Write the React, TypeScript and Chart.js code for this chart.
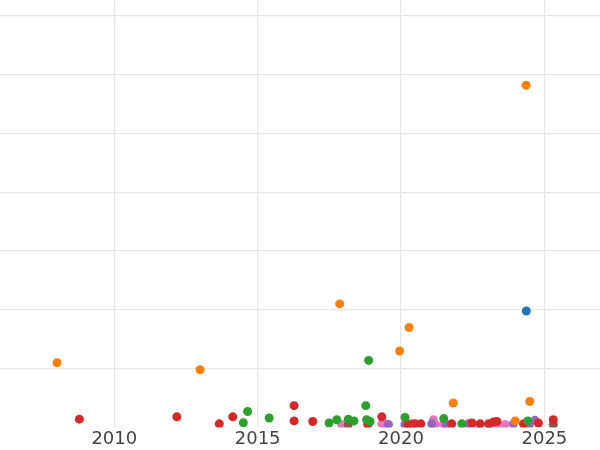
import React, { useEffect, useRef } from "react";
import { Chart, registerables } from "chart.js";

Chart.register(...registerables);

const xTicks = [2010, 2015, 2020, 2025];
const yTicks = [1, 2, 3, 4, 5, 6, 7];

const blueX = [2024.37];
const blueY = [1.98];

const orangeX = [2008.0, 2012.99, 2017.86, 2020.28, 2019.95, 2024.36, 2021.82, 2024.49, 2023.98];
const orangeY = [1.10, 0.98, 2.10, 1.70, 1.30, 5.82, 0.415, 0.44, 0.11];

const greenX = [2018.87, 2018.77, 2014.65, 2014.5, 2015.4, 2017.49, 2017.76, 2018.16, 2018.36, 2018.8, 2018.92, 2020.14, 2021.49, 2022.12, 2024.42];
const greenY = [1.14, 0.37, 0.27, 0.08, 0.16, 0.075, 0.13, 0.14, 0.11, 0.13, 0.10, 0.17, 0.15, 0.06, 0.11];

const redX = [2008.78, 2012.18, 2013.66, 2014.13, 2016.27, 2016.27, 2016.92, 2019.33, 2018.84, 2020.25, 2020.49, 2020.69, 2021.77, 2022.47, 2022.76, 2023.05, 2023.22, 2023.34, 2024.27, 2024.79, 2025.31];
const redY = [0.14, 0.18, 0.06, 0.18, 0.37, 0.11, 0.10, 0.18, 0.05, 0.05, 0.06, 0.06, 0.06, 0.075, 0.06, 0.06, 0.09, 0.10, 0.06, 0.075, 0.13];

const purpleX = [2019.56, 2020.14, 2020.37, 2021.07, 2021.59, 2022.35, 2023.1, 2023.92, 2024.67, 2024.47];
const purpleY = [0.05, 0.05, 0.06, 0.06, 0.05, 0.06, 0.05, 0.06, 0.12, 0.035];

const brownX = [2018.16, 2025.31];
const brownY = [0.05, 0.05];

const pinkX = [2017.93, 2019.33, 2019.44, 2021.13, 2021.19, 2021.48, 2022.64, 2023.39, 2023.63];
const pinkY = [0.05, 0.06, 0.06, 0.13, 0.05, 0.05, 0.035, 0.05, 0.05];

const seriesNames = ["Series 1", "Series 2", "Series 3", "Series 4", "Series 5", "Series 6", "Series 7"];
const seriesColors = ["#1f77b4", "#ff7f0e", "#2ca02c", "#d62728", "#9467bd", "#8c564b", "#e377c2"];

function pts(xs: number[], ys: number[]) {
  return xs.map((x, i) => ({ x, y: ys[i] }));
}

export default function App() {
  const ref = useRef<HTMLCanvasElement | null>(null);
  useEffect(() => {
    if (!ref.current) return;
    const all = [
      pts(blueX, blueY),
      pts(orangeX, orangeY),
      pts(greenX, greenY),
      pts(redX, redY),
      pts(purpleX, purpleY),
      pts(brownX, brownY),
      pts(pinkX, pinkY),
    ];
    const chart = new Chart(ref.current, {
      type: "scatter",
      data: {
        datasets: all.map((d, i) => ({
          label: seriesNames[i],
          data: d,
          backgroundColor: seriesColors[i],
          borderColor: seriesColors[i],
          borderWidth: 0,
          pointRadius: 4.5,
          clip: 0,
        })),
      },
      options: {
        animation: false,
        responsive: false,
        layout: { padding: 0, autoPadding: false },
        plugins: { legend: { display: false }, tooltip: { enabled: false } },
        scales: {
          x: {
            type: "linear",
            min: 2006.013,
            max: 2026.94,
            afterBuildTicks: (s: any) => {
              s.ticks = xTicks.map((v) => ({ value: v }));
            },
            ticks: {
              callback: (v: any) => String(v),
              font: { family: "DejaVu Sans", size: 18 },
              color: "#444",
              padding: 1,
              maxRotation: 0,
            },
            grid: { color: "#e6e6e6", lineWidth: 1.3, drawTicks: false },
            border: { display: false },
          },
          y: {
            type: "linear",
            min: 0,
            max: 7.27,
            afterBuildTicks: (s: any) => {
              s.ticks = yTicks.map((v) => ({ value: v }));
            },
            afterFit: (s: any) => {
              s.width = 0;
            },
            ticks: { display: false },
            grid: { color: "#e6e6e6", lineWidth: 1.3, drawTicks: false },
            border: { display: false },
          },
        },
      },
    });
    return () => chart.destroy();
  }, []);
  return (
    <canvas
      ref={ref}
      width={600}
      height={451}
      style={{ position: "fixed", left: 0, top: 0, width: 600, height: 451 }}
    />
  );
}
